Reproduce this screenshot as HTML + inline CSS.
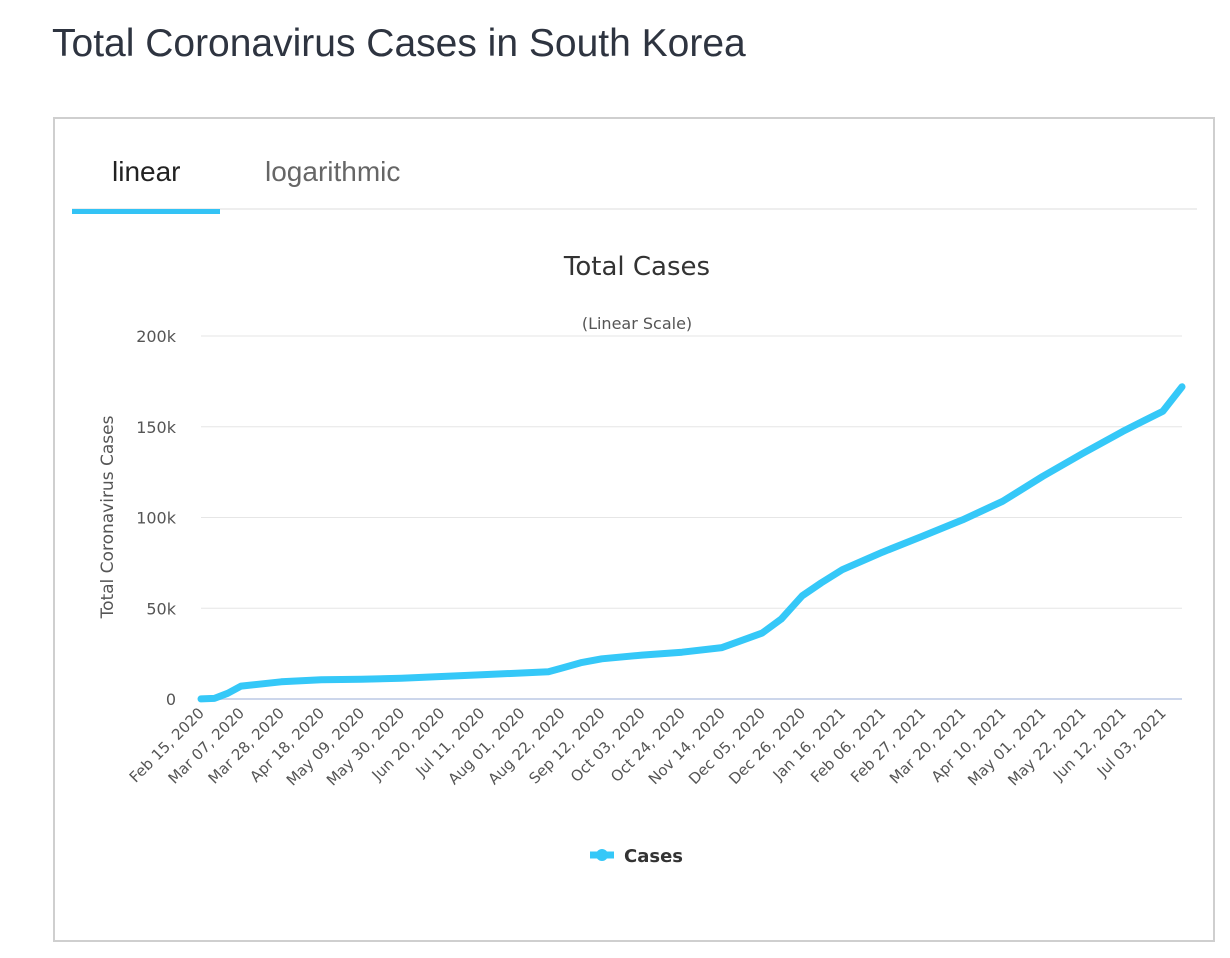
<!DOCTYPE html>
<html><head><meta charset="utf-8"><style>
body{margin:0;background:#fff;width:1230px;height:958px;overflow:hidden;font-family:"Liberation Sans","DejaVu Sans",sans-serif;position:relative}
.title{position:absolute;left:52px;top:22px;font-size:39px;color:#2e3440}
.box{position:absolute;left:53px;top:117px;width:1158px;height:821px;border:2px solid #cfcfcf}
.tab{position:absolute;top:156px;font-size:28px}
</style></head><body>
<div class="title">Total Coronavirus Cases in South Korea</div>
<div class="box"></div>
<div class="tab" style="left:112px;color:#222">linear</div>
<div class="tab" style="left:265px;color:#666">logarithmic</div>
<div style="position:absolute;left:72px;top:208px;width:1125px;height:2px;background:#eee"></div>
<div style="position:absolute;left:72px;top:209px;width:148px;height:5px;background:#33c3f5"></div>
<svg id="chart" width="1230" height="958" style="position:absolute;left:0;top:0">
<text x="637" y="275" text-anchor="middle" font-size="26" fill="#333" font-family="DejaVu Sans">Total Cases</text>
<text x="637" y="329" text-anchor="middle" font-size="16" fill="#555" font-family="DejaVu Sans">(Linear Scale)</text>
<text transform="translate(113,517) rotate(-90)" text-anchor="middle" font-size="17" fill="#555" font-family="DejaVu Sans">Total Coronavirus Cases</text>
<g id="grid"></g><g id="xl"></g><path id="line" fill="none" stroke="#35c8f8" stroke-width="7" stroke-linejoin="round" stroke-linecap="round"/>
<g><line x1="590" y1="855" x2="614" y2="855" stroke="#35c8f8" stroke-width="7"/><circle cx="602" cy="855" r="6" fill="#35c8f8"/><text x="624" y="862" font-size="18" font-weight="bold" fill="#333" font-family="DejaVu Sans">Cases</text></g>
</svg>
<script>
const dayOffsets=[0,7,14,21,42,63,84,105,126,147,168,182,189,199,210,231,252,273,294,304,315,325,336,357,378,399,420,441,462,483,504,514];
const caseValues=[30,346,3150,7134,9478,10653,10840,11468,12373,13373,14336,15000,17002,20000,22176,24164,25775,28338,36332,44000,56872,64000,71241,80896,89676,98665,108945,122633,135344,147422,158549,172000];
const yTicks=[0,50000,100000,150000,200000];
const yTickLabels=["0","50k","100k","150k","200k"];
const xTickLabels=["Feb 15, 2020","Mar 07, 2020","Mar 28, 2020","Apr 18, 2020","May 09, 2020","May 30, 2020","Jun 20, 2020","Jul 11, 2020","Aug 01, 2020","Aug 22, 2020","Sep 12, 2020","Oct 03, 2020","Oct 24, 2020","Nov 14, 2020","Dec 05, 2020","Dec 26, 2020","Jan 16, 2021","Feb 06, 2021","Feb 27, 2021","Mar 20, 2021","Apr 10, 2021","May 01, 2021","May 22, 2021","Jun 12, 2021","Jul 03, 2021"];
const NS="http://www.w3.org/2000/svg";
const x0=201,x1=1182,y0=699,y1=336,maxDay=514,maxV=200000;
const X=d=>x0+d/maxDay*(x1-x0), Y=v=>y0-v/maxV*(y0-y1);
const grid=document.getElementById('grid');
yTicks.forEach((v,i)=>{
 const l=document.createElementNS(NS,'line');
 l.setAttribute('x1',x0);l.setAttribute('x2',x1);l.setAttribute('y1',Y(v));l.setAttribute('y2',Y(v));
 l.setAttribute('stroke',i==0?'#ccd6eb':'#e6e6e6');l.setAttribute('stroke-width',i==0?2:1);
 
 
 grid.appendChild(l);
 const t=document.createElementNS(NS,'text');
 t.setAttribute('x',176);t.setAttribute('y',Y(v)+6);t.setAttribute('text-anchor','end');t.setAttribute('font-size','16');t.setAttribute('fill','#555');t.setAttribute('font-family','DejaVu Sans');
 t.textContent=yTickLabels[i];
 
 
 grid.appendChild(t);
});
const xl=document.getElementById('xl');
xTickLabels.forEach((s,i)=>{
 const t=document.createElementNS(NS,'text');
 const x=X(i*21)+4,y=714;
 t.setAttribute('transform','translate('+x+','+y+') rotate(-45)');
 t.setAttribute('text-anchor','end');t.setAttribute('font-size','15');t.setAttribute('fill','#555');t.setAttribute('font-family','DejaVu Sans');
 t.textContent=s;
 
 
 xl.appendChild(t);
});
document.getElementById('line').setAttribute('d',dayOffsets.map((d,i)=>(i?'L':'M')+X(d).toFixed(1)+','+Y(caseValues[i]).toFixed(1)).join(''));
</script>
</body></html>
